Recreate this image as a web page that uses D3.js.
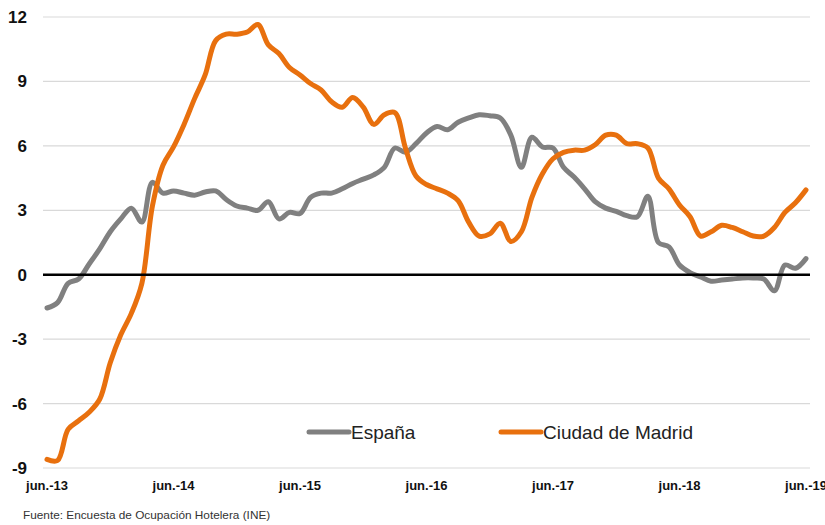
<!DOCTYPE html>
<html>
<head>
<meta charset="utf-8">
<script src="https://cdn.jsdelivr.net/npm/d3@7"></script>
<style>
    body { margin: 0; background: #fff; }
    text { font-family: 'Liberation Sans', Arial, sans-serif; }
    .tick-y { font-size: 17px; font-weight: bold; fill: #111; }
    .tick-x { font-size: 13px; font-weight: bold; fill: #111; }
    .legend { font-size: 19px; fill: #222; }
    .source { font-size: 11.8px; fill: #333; }
</style>
</head>
<body>
<div id="chart"></div>
<script>
var xLabels = ['jun.-13', 'jun.-14', 'jun.-15', 'jun.-16', 'jun.-17', 'jun.-18', 'jun.-19']
var yTicks = [-9, -6, -3, 0, 3, 6, 9, 12]
var seriesNames = ['España', 'Ciudad de Madrid']

// monthly values, jun-13 .. jun-19
var espana = [
    -1.55, -1.3, -0.4, -0.2, 0.5, 1.2, 2.0, 2.6, 3.1, 2.45, 4.3, 3.8,
    3.9, 3.8, 3.7, 3.85, 3.9, 3.5, 3.2, 3.1, 3.0, 3.4, 2.6, 2.9,
    2.85, 3.6, 3.8, 3.8, 4.0, 4.25, 4.45, 4.65, 5.0, 5.9, 5.7, 6.1,
    6.6, 6.9, 6.75, 7.1, 7.3, 7.45, 7.4, 7.3, 6.5, 5.0, 6.4, 5.95,
    5.9, 5.0, 4.55, 4.0, 3.4, 3.1, 2.95, 2.75, 2.7, 3.65, 1.5, 1.3,
    0.45, 0.1, -0.1, -0.3, -0.25, -0.2, -0.15, -0.15, -0.2, -0.75, 0.45, 0.3,
    0.75
]
var madrid = [
    -8.6, -8.65, -7.2, -6.8, -6.4, -5.8, -4.1, -2.8, -1.8, -0.4, 3.2, 5.1,
    5.95, 7.0, 8.2, 9.3, 10.9, 11.2, 11.2, 11.3, 11.65, 10.7, 10.3, 9.65,
    9.3, 8.9, 8.6, 8.05, 7.8, 8.25, 7.8, 7.0, 7.45, 7.55, 5.9, 4.6,
    4.2, 4.0, 3.8, 3.45, 2.45, 1.8, 1.9, 2.4, 1.55, 2.0, 3.6, 4.7,
    5.4, 5.7, 5.8, 5.8, 6.05, 6.5, 6.5, 6.1, 6.1, 5.9, 4.5, 4.0,
    3.25, 2.7, 1.8, 2.0, 2.3, 2.2, 2.0, 1.8, 1.8, 2.2, 2.9, 3.35,
    3.95
]

var colors = ['#808080', '#e8700e']

var width = 825
var height = 525

var svg = d3.select('#chart')
    .append('svg')
    .attr('width', width)
    .attr('height', height)

var x = d3.scaleLinear()
    .domain([0, espana.length - 1])
    .range([47, 806])

var y = d3.scaleLinear()
    .domain([-9, 12])
    .range([468, 17])

// grid
svg.append('g')
    .selectAll('line')
    .data(yTicks.filter(function (d) { return d !== 0 }))
    .enter().append('line')
    .attr('x1', 43)
    .attr('x2', 810)
    .attr('y1', function (d) { return y(d) })
    .attr('y2', function (d) { return y(d) })
    .attr('stroke', '#d9d9d9')
    .attr('stroke-width', 1.2)

// y labels
svg.append('g')
    .selectAll('text')
    .data(yTicks)
    .enter().append('text')
    .attr('class', 'tick-y')
    .attr('x', 27)
    .attr('y', function (d) { return y(d) + 6 })
    .attr('text-anchor', 'end')
    .text(function (d) { return d })

// x labels
svg.append('g')
    .selectAll('text')
    .data(xLabels)
    .enter().append('text')
    .attr('class', 'tick-x')
    .attr('x', function (d, i) { return x(i * 12) })
    .attr('y', 490)
    .attr('text-anchor', 'middle')
    .text(function (d) { return d })

var line = d3.line()
    .x(function (d, i) { return x(i) })
    .y(function (d) { return y(d) })
    .curve(d3.curveCatmullRom.alpha(0.5))

svg.append('path')
    .datum(espana)
    .attr('d', line)
    .attr('fill', 'none')
    .attr('stroke', colors[0])
    .attr('stroke-width', 5)
    .attr('stroke-linejoin', 'round')
    .attr('stroke-linecap', 'round')

svg.append('path')
    .datum(madrid)
    .attr('d', line)
    .attr('fill', 'none')
    .attr('stroke', colors[1])
    .attr('stroke-width', 5)
    .attr('stroke-linejoin', 'round')
    .attr('stroke-linecap', 'round')

// zero line
svg.append('line')
    .attr('x1', 43)
    .attr('x2', 810)
    .attr('y1', y(0))
    .attr('y2', y(0))
    .attr('stroke', '#000')
    .attr('stroke-width', 2.5)

// legend
var legendX = [309, 501]
seriesNames.forEach(function (name, i) {
    svg.append('line')
        .attr('x1', legendX[i])
        .attr('x2', legendX[i] + 40)
        .attr('y1', 432)
        .attr('y2', 432)
        .attr('stroke', colors[i])
        .attr('stroke-width', 5)
        .attr('stroke-linecap', 'round')
    svg.append('text')
        .attr('class', 'legend')
        .attr('x', legendX[i] + 42)
        .attr('y', 438.5)
        .text(name)
})

svg.append('text')
    .attr('class', 'source')
    .attr('x', 23)
    .attr('y', 519)
    .text('Fuente: Encuesta de Ocupación Hotelera (INE)')
</script>
</body>
</html>
